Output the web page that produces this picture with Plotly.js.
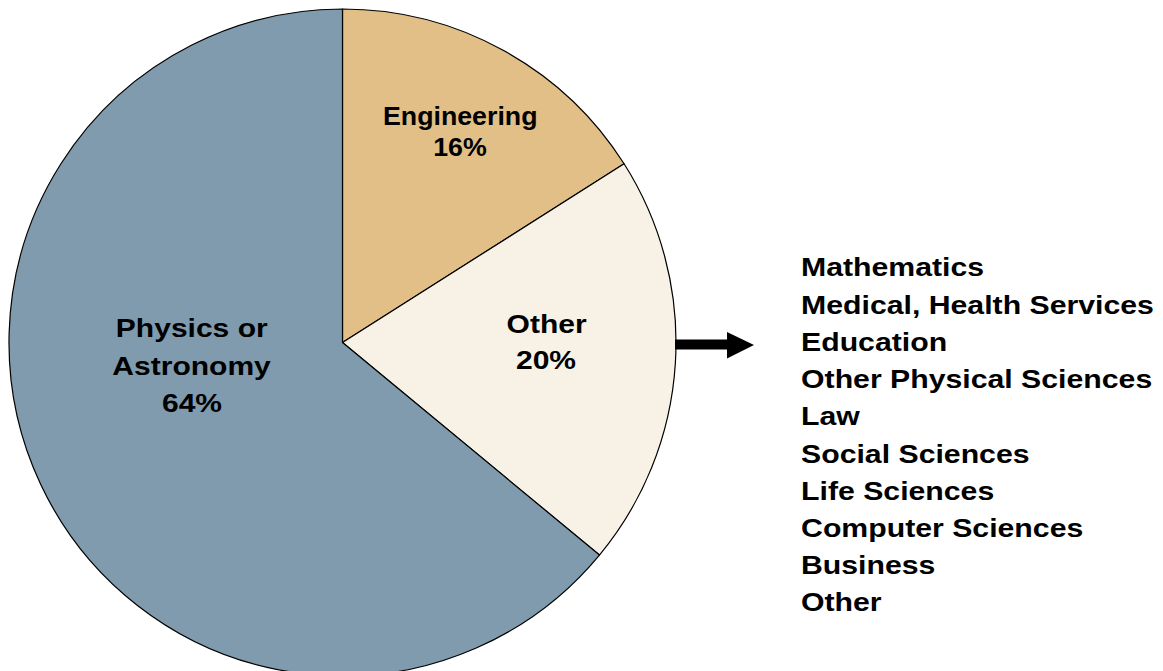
<!DOCTYPE html>
<html>
<head>
<meta charset="utf-8">
<script src="https://cdn.plot.ly/plotly-3.0.1.min.js"></script>
<style>
html,body{margin:0;padding:0;overflow:hidden;background:#fff;}
#chart{width:1163px;height:690px;}
</style>
</head>
<body>
<div id="chart"></div>
<script>
// Data
const sliceLabels = ["Engineering", "Other", "Physics or<br>Astronomy"];
const sliceValues = [16, 20, 64];
const sliceColors = ["#E1BF86", "#F8F1E6", "#7F9BAD"];
const otherItems = ["Mathematics", "Medical, Health Services", "Education",
  "Other Physical Sciences", "Law", "Social Sciences", "Life Sciences",
  "Computer Sciences", "Business", "Other"];

const W = 1163, H = 690;
const px = x => x / W;
const py = y => 1 - y / H;
const FONT = "Liberation Sans, Arial, Helvetica, sans-serif";
const FS = 26;

const trace = {
  type: "pie",
  labels: sliceLabels,
  values: sliceValues,
  sort: false,
  direction: "clockwise",
  rotation: 0,
  marker: {colors: sliceColors, line: {color: "#000", width: 1.2}},
  textinfo: "none",
  hoverinfo: "none",
  domain: {x: [px(9), px(676)], y: [py(676), py(9)]}
};

// label placement (layout only)
const labelPlace = [
  {x: 459.5, ys: [115.5, 146.5], stretch: 1.07, size: 25},
  {x: 546, ys: [324, 360], stretch: 1.155, size: FS},
  {x: 192, ys: [328, 366, 402.5], stretch: 1.155, size: FS}
];

const annotations = [];
const stretch = [];
const anchorLeft = [];
const total = sliceValues.reduce((a, b) => a + b, 0);
sliceLabels.forEach((lab, i) => {
  const lines = lab.split("<br>").concat([Math.round(sliceValues[i] / total * 100) + "%"]);
  lines.forEach((ln, j) => {
    annotations.push({
      xref: "paper", yref: "paper",
      x: px(labelPlace[i].x), y: py(labelPlace[i].ys[j]),
      xanchor: "center", yanchor: "middle",
      text: "<b>" + ln + "</b>", showarrow: false,
      font: {family: FONT, size: labelPlace[i].size, color: "#000"}
    });
    stretch.push(labelPlace[i].stretch);
    anchorLeft.push(false);
  });
});

otherItems.forEach((t, i) => {
  annotations.push({
    xref: "paper", yref: "paper",
    x: px(799), y: py(267.5 + i * 37.2),
    xanchor: "left", yanchor: "middle",
    text: "<b>" + t + "</b>",
    showarrow: false,
    font: {family: FONT, size: FS, color: "#000"}
  });
  stretch.push(1.163);
  anchorLeft.push(true);
});

const shapes = [
  {type: "rect", xref: "paper", yref: "paper",
   x0: px(675), x1: px(729), y0: py(349.5), y1: py(339.5),
   fillcolor: "#000", line: {width: 0}},
  {type: "path", xref: "paper", yref: "paper",
   path: `M ${px(727)} ${py(332)} L ${px(754)} ${py(345)} L ${px(727)} ${py(358.5)} Z`,
   fillcolor: "#000", line: {width: 0}}
];

const layout = {
  width: W, height: H,
  margin: {l: 0, r: 0, t: 0, b: 0},
  showlegend: false,
  paper_bgcolor: "#fff",
  font: {family: FONT},
  annotations: annotations,
  shapes: shapes
};

Plotly.newPlot("chart", [trace], layout, {displayModeBar: false, staticPlot: true}).then(gd => {
  gd.querySelectorAll(".annotation").forEach(g => {
    const idx = +g.getAttribute("data-index");
    const t = g.querySelector("text.annotation-text");
    if (!t || isNaN(idx)) return;
    const bb = t.getBBox();
    const cx = anchorLeft[idx] ? bb.x : bb.x + bb.width / 2;
    const s = stretch[idx];
    const prev = t.getAttribute("transform") || "";
    t.setAttribute("transform", prev + ` translate(${cx},0) scale(${s},1) translate(${-cx},0)`);
  });
});
</script>
</body>
</html>
